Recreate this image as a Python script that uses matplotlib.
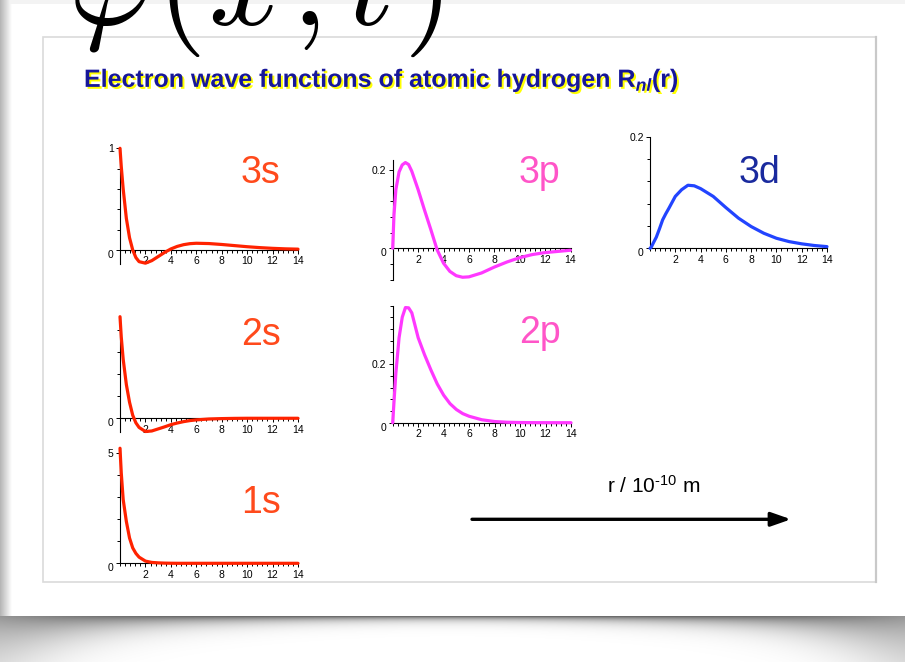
import numpy as np
import matplotlib
matplotlib.use('Agg')
import matplotlib.pyplot as plt
from matplotlib.ticker import MultipleLocator
import matplotlib.patheffects as pe
from matplotlib.patches import Rectangle

# ---------------- data ----------------
r = [0, 0.1, 0.25, 0.5, 0.75, 1.0, 1.25, 1.5, 2.0, 2.5, 3.0, 3.5, 4.0, 4.5,
     5.0, 5.5, 6.0, 7.0, 8.0, 9.0, 10.0, 11.0, 12.0, 13.0, 14.0]

R_3s = [1.0, 0.82, 0.60, 0.31, 0.12, 0.0, -0.075, -0.115, -0.13, -0.105, -0.065,
        -0.025, 0.01, 0.035, 0.052, 0.062, 0.066, 0.063, 0.054, 0.043, 0.032,
        0.023, 0.016, 0.011, 0.008]
R_3p = [0.0, 0.085, 0.15, 0.195, 0.213, 0.219, 0.214, 0.197, 0.15, 0.098, 0.048,
        -0.004, -0.038, -0.059, -0.07, -0.074, -0.073, -0.063, -0.048, -0.035,
        -0.024, -0.016, -0.011, -0.008, -0.005]
R_3d = [0.0, 0.002, 0.009, 0.02, 0.035, 0.051, 0.062, 0.072, 0.093, 0.105, 0.113,
        0.112, 0.107, 0.100, 0.093, 0.083, 0.073, 0.054, 0.039, 0.027, 0.018,
        0.012, 0.008, 0.005, 0.003]
R_2s = [1.84, 1.47, 1.07, 0.61, 0.29, 0.055, -0.083, -0.166, -0.24, -0.23, -0.193,
        -0.156, -0.116, -0.086, -0.061, -0.042, -0.029, -0.013, -0.006, -0.002,
        0.0, 0.0, 0.0, 0.0, 0.0]
R_2p = [0.0, 0.07, 0.17, 0.29, 0.36, 0.393, 0.392, 0.375, 0.29, 0.232, 0.18,
        0.132, 0.094, 0.065, 0.045, 0.031, 0.022, 0.01, 0.004, 0.0015, 0.0006,
        0.0002, 0.0001, 0.0, 0.0]
R_1s = [5.23, 4.1, 2.9, 1.9, 1.15, 0.7, 0.45, 0.28, 0.1, 0.04, 0.02, 0.008,
        0.003, 0.0, 0.0, 0.0, 0.0, 0.0, 0.0, 0.0, 0.0, 0.0, 0.0, 0.0, 0.0]

x_ticks = [2, 4, 6, 8, 10, 12, 14]
x_tick_labels = ['2', '4', '6', '8', '10', '12', '14']

orbital_names = ['3s', '3p', '3d', '2s', '2p', '1s']

title_text = 'Electron wave functions of atomic hydrogen R$_{nl}$(r)'
big_title_pieces = [r'$\varphi$', r'$($', r'$x$', r'$,$', r'$t$', r'$)$']
axis_note = r'r / 10$^{\text{-10}}$ m'

# ---------------- style ----------------
plt.rcParams['font.family'] = ['Liberation Sans', 'DejaVu Sans']
plt.rcParams['mathtext.fontset'] = 'custom'
plt.rcParams['mathtext.rm'] = 'Liberation Sans'
plt.rcParams['mathtext.it'] = 'Liberation Sans:italic:bold'
plt.rcParams['mathtext.bf'] = 'Liberation Sans:bold'

S_LINE = '#ff2200'
S_LABEL = '#ff4a1c'
P_LINE = '#ff38ff'
P_LABEL = '#ff55c8'
D_LINE = '#2244ff'
D_LABEL = '#1a2a9e'

W, H = 905, 662
fig = plt.figure(figsize=(W / 100, H / 100), dpi=100)
fig.patch.set_facecolor('white')

bg = fig.add_axes([0, 0, 1, 1], zorder=0)
bg.axis('off')

# slide shadow decoration
yy, xx = np.mgrid[0:H, 0:W] + 0.5
t = (xx - 452.0) / 452.0
below = yy > 616
wdt = 4 + 10 * t ** 2 + 30 * t ** 8
amp = 0.64 - 0.22 * t ** 4
alpha = np.where(below, amp * np.exp(-(yy - 616) / wdt), 0.0)
leftm = (xx < 12) & (~below)
alpha = np.where(leftm, np.maximum(alpha, 0.3 * (1 - xx / 12.0)), alpha)
topm = (yy < 4) & (~below)
alpha = np.where(topm, np.maximum(alpha, 0.05), alpha)
img = np.zeros((H, W, 4))
img[..., 3] = alpha
bg.imshow(img, extent=[0, W, H, 0], interpolation='bilinear', zorder=0, aspect='auto')
bg.set_xlim(0, W)
bg.set_ylim(H, 0)

# inner content box
bg.add_patch(Rectangle((43, 37), 833, 545, facecolor='white', edgecolor='#dadada',
                       lw=1.2, zorder=1))
bg.plot([876, 876], [37, 582], color='#c9c9c9', lw=1.6, zorder=1.1)

# big math title (cut by the top edge)
piece_x = [68, 156, 208, 291, 347, 403]
for s, px in zip(big_title_pieces, piece_x):
    bg.text(px, 25, s, math_fontfamily='cm', fontsize=92, va='baseline',
            ha='left', color='black', zorder=3)

# blue title with yellow shadow
bg.text(84, 87, title_text, fontsize=18, fontweight='bold',
        color='#17179a', va='baseline', ha='left', zorder=3,
        path_effects=[pe.withSimplePatchShadow(offset=(1.4, -1.4),
                                               shadow_rgbFace='#ffff00', alpha=1.0)])

# arrow and its label
bg.annotate('', xy=(791, 519.3), xytext=(472, 519.3),
            arrowprops=dict(arrowstyle='-|>,head_length=0.8,head_width=0.28',
                            mutation_scale=15, lw=2.4, color='black',
                            shrinkA=0, shrinkB=0), zorder=3)
bg.text(607, 493, axis_note, fontsize=15, va='baseline', ha='left', zorder=3)


def panel(x0, x1, ytop, ybot, ylim, values, color, yticks, ylabels, yminor):
    ax = fig.add_axes([x0 / W, 1 - ybot / H, (x1 - x0) / W, (ybot - ytop) / H], zorder=2)
    ax.patch.set_alpha(0)
    ax.set_xlim(0, 14)
    ax.set_ylim(*ylim)
    for s in ['top', 'right']:
        ax.spines[s].set_visible(False)
    ax.spines['bottom'].set_position(('data', 0))
    ax.spines['left'].set_position(('data', 0))
    for s in ['bottom', 'left']:
        ax.spines[s].set_linewidth(0.8)
        ax.spines[s].set_color('black')
    ax.plot(r, values, color=color, lw=2.3, clip_on=False, solid_joinstyle='round',
            solid_capstyle='round', zorder=3)
    ax.set_xticks(x_ticks, x_tick_labels)
    ax.xaxis.set_minor_locator(MultipleLocator(0.4))
    ax.set_yticks(yticks, ylabels)
    ax.yaxis.set_minor_locator(MultipleLocator(yminor))
    ax.tick_params(which='major', length=3, width=0.7, direction='out', pad=1.5,
                   labelsize=7.5, colors='black')
    ax.tick_params(which='minor', length=2, width=0.7, direction='out')
    tk0 = ax.yaxis.get_major_ticks()[0]
    tk0.label1.set_verticalalignment('top')
    return ax


panel(120, 298, 148.3, 264.2, (-0.14, 1.0), R_3s, S_LINE, [0, 1], ['0', '1'], 0.2)
panel(392.7, 570.5, 160.2, 279.6, (-0.08, 0.225), R_3p, P_LINE, [0, 0.2], ['0', '0.2'], 0.04)
panel(650, 827, 136.7, 248.3, (0, 0.2), R_3d, D_LINE, [0, 0.2], ['0', '0.2'], 0.04)
panel(120, 298, 316.7, 431.8, (-0.245, 1.84), R_2s, S_LINE, [0], ['0'], 0.4)
panel(392.7, 571, 305.5, 422.7, (0, 0.40), R_2p, P_LINE, [0, 0.2], ['0', '0.2'], 0.04)
panel(120, 298, 447.8, 563.3, (0, 5.25), R_1s, S_LINE, [0, 5], ['0', '5'], 1.0)

# orbital labels
label_pos = {'3s': (241, 183.3), '3p': (519, 183.3), '3d': (739, 183.3),
             '2s': (241, 345), '2p': (519, 343.3), '1s': (241, 513.3)}
label_col = {'3s': S_LABEL, '2s': S_LABEL, '1s': S_LABEL,
             '3p': P_LABEL, '2p': P_LABEL, '3d': D_LABEL}
for nm in orbital_names:
    x, y = label_pos[nm]
    bg.text(x, y, nm, fontsize=27, color=label_col[nm], va='baseline', ha='left', zorder=3)

fig.savefig('out.png', dpi=100, facecolor='white')
